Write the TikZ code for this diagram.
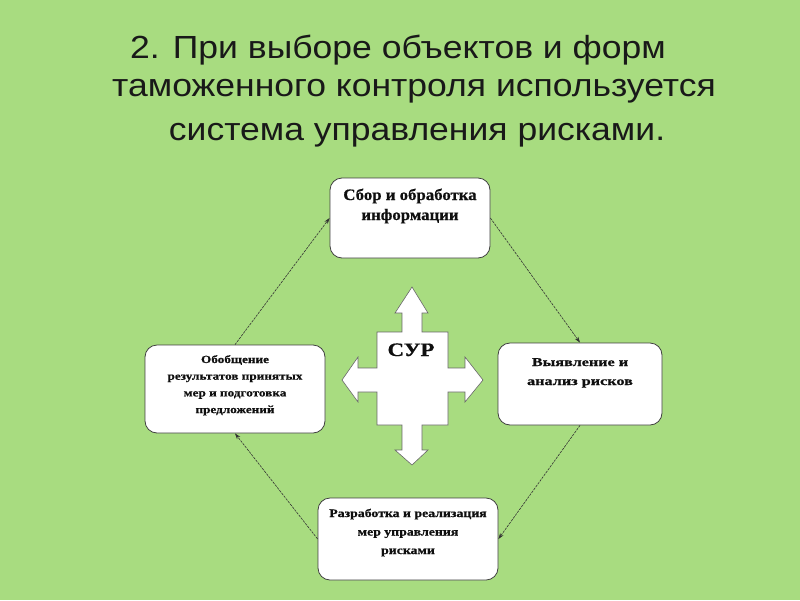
\documentclass[tikz,border=0pt]{standalone}
\usepackage{fontspec}
\setmainfont[BoldFeatures={FakeBold=0.6}]{Liberation Serif}
\newfontfamily\titlefont{Liberation Sans}
\usetikzlibrary{arrows.meta}
\definecolor{bg}{RGB}{168,220,128}
\definecolor{ink}{RGB}{15,15,15}
\tikzset{
  box/.style={draw=black!75, line width=0.8pt, fill=white, rounded corners=12pt, inner sep=0pt},
  boxtext/.style={anchor=base, inner sep=0pt, text=ink, font=\bfseries},
  title/.style={anchor=base, inner sep=0pt, text=black!90, font=\titlefont\fontsize{32}{38}\selectfont},
  conn/.style={draw=black!80, line width=0.6pt, dash pattern=on 2.5pt off 1pt, -{Stealth[length=6pt,width=4pt]}}
}
\newcommand{\boxlines}[4]{\scalebox{#1}[1]{\fontsize{#2}{#3}\selectfont\setlength{\tabcolsep}{0pt}\begin{tabular}[t]{c}#4\end{tabular}}}
\newcommand{\titleline}[1]{\scalebox{1.11}[1]{#1}}
\begin{document}
\begin{tikzpicture}[x=1pt,y=-1pt]
\fill[bg] (0,0) rectangle (800,600);
\useasboundingbox (0,0) rectangle (800,600);

% title
\node[title] (h1) at (398,58) {\titleline{2. При выборе объектов и форм}};
\node[title] (h2) at (414,96) {\titleline{таможенного контроля используется}};
\node[title] (h3) at (417,140) {\titleline{система управления рисками.}};

% boxes
\node[box, minimum width=160pt, minimum height=80pt] (T) at (410,218) {};
\node[box, minimum width=180pt, minimum height=88pt] (L) at (235,389) {};
\node[box, minimum width=164pt, minimum height=82pt] (R) at (580,384) {};
\node[box, minimum width=180pt, minimum height=82pt] (B) at (408,539) {};

\node[boxtext] (tT) at (410,200) {\boxlines{1.05}{16}{20}{Сбор и обработка\\информации}};
\node[boxtext] (tL) at (235,363) {\boxlines{1.2}{11}{16.7}{Обобщение\\результатов принятых\\мер и подготовка\\предложений}};
\node[boxtext] (tR) at (580,366) {\boxlines{1.35}{12}{19}{Выявление и\\анализ рисков}};
\node[boxtext] (tB) at (408,517) {\boxlines{1.2}{11.5}{18.5}{Разработка и реализация\\мер управления\\рисками}};

% central cross arrow
\draw[draw=black!60, line width=0.6pt, fill=white]
  (412,287) -- (428,313) -- (422,313) -- (422,332) -- (448,332) -- (448,368)
  -- (465,368) -- (465,357) -- (483,380) -- (465,402) -- (465,392) -- (448,392)
  -- (448,425) -- (422,425) -- (422,450) -- (428,450) -- (412,465) -- (395,450)
  -- (402,450) -- (402,425) -- (377,425) -- (377,392) -- (358,392) -- (358,402)
  -- (342,380) -- (358,357) -- (358,368) -- (377,368) -- (377,332) -- (402,332)
  -- (402,313) -- (395,313) -- cycle;
\node[boxtext] (cur) at (411,356) {\scalebox{1.2}[1]{\fontsize{19}{22}\selectfont СУР}};

% connectors
\draw[conn] (L.north) -- (T.west);
\draw[conn] (T.east) -- (R.north);
\draw[conn] (R.south) -- (B.east);
\draw[conn] (B.west) -- (L.south);
\end{tikzpicture}
\end{document}
